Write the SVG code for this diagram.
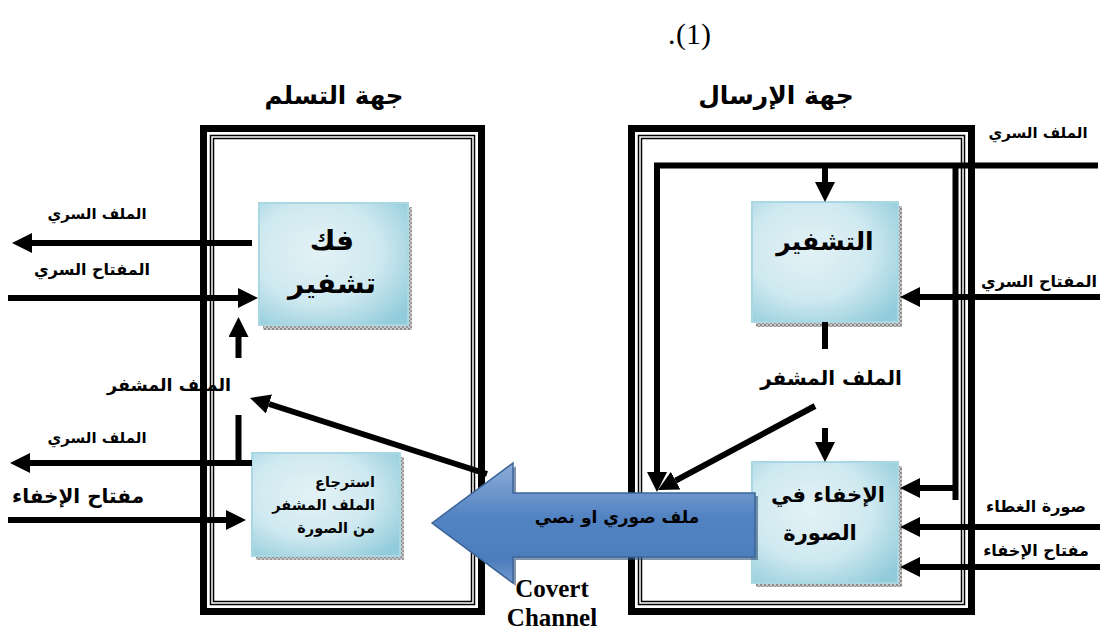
<svg xmlns="http://www.w3.org/2000/svg" width="1106" height="633" viewBox="0 0 1106 633">
<defs>
<style>
.ar{font-family:"DejaVu Sans",sans-serif;font-weight:bold;fill:#000}
.lat{font-family:"Liberation Serif",serif;fill:#000}
.ln{stroke:#000;stroke-width:6;fill:none;stroke-linejoin:miter}
.fr{fill:none;stroke:#000}
.box{fill:url(#boxg);stroke:#a9d7e3;stroke-width:2}
.shadow{fill:url(#dots)}
</style>
<radialGradient id="boxg" cx="0.4" cy="0.4" r="0.75">
<stop offset="0" stop-color="#e3f2f6"/>
<stop offset="0.55" stop-color="#cfe9f0"/>
<stop offset="1" stop-color="#92ccdb"/>
</radialGradient>
<linearGradient id="blue" x1="0" y1="0" x2="0" y2="1">
<stop offset="0" stop-color="#8eadd9"/>
<stop offset="0.45" stop-color="#5283c2"/>
<stop offset="0.8" stop-color="#4c7dbd"/>
<stop offset="1" stop-color="#7398cc"/>
</linearGradient>
<pattern id="dots" width="4" height="4" patternUnits="userSpaceOnUse">
<rect width="4" height="4" fill="#c8c8c8"/>
<rect width="2" height="2" fill="#8a8a8a"/>
<rect x="2" y="2" width="2" height="2" fill="#9a9a9a"/>
</pattern>
<marker id="ah" viewBox="0 0 20 20" refX="0" refY="10" markerWidth="20" markerHeight="20" markerUnits="userSpaceOnUse" orient="auto">
<path d="M0,0 L20,10 L0,20 Z" fill="#000"/>
</marker>
</defs>

<text class="lat" x="668" y="44" font-size="30">.</text>
<text class="lat" x="676" y="44" font-size="30">(1)</text>
<text class="ar" x="334" y="104" font-size="24.5" text-anchor="middle">جهة التسلم</text>
<text class="ar" x="776" y="104" font-size="25" text-anchor="middle">جهة الإرسال</text>

<g id="frame-receiver">
<rect class="fr" x="203.5" y="128.5" width="278" height="483" stroke-width="7"/>
<rect class="fr" x="210.5" y="135.5" width="264" height="469" stroke-width="1.5"/>
<rect class="fr" x="213.5" y="138.5" width="258" height="463" stroke-width="1.5"/>
</g>
<g id="frame-sender">
<rect class="fr" x="631.5" y="128.5" width="340" height="483" stroke-width="7"/>
<rect class="fr" x="638.5" y="135.5" width="326" height="469" stroke-width="1.5"/>
<rect class="fr" x="641.5" y="138.5" width="320" height="463" stroke-width="1.5"/>
</g>

<g id="node-decrypt">
<rect class="shadow" x="263" y="207" width="149" height="123"/>
<rect class="box" x="259" y="203" width="149" height="122"/>
<text class="ar" x="332" y="250" font-size="28" text-anchor="middle">فك</text>
<text class="ar" x="332" y="293" font-size="28" text-anchor="middle">تشفير</text>
</g>

<g id="node-extract">
<rect class="shadow" x="256" y="457" width="148" height="103"/>
<rect class="box" x="252" y="453" width="148" height="103"/>
<text class="ar" x="375" y="487" font-size="14.5" text-anchor="end">استرجاع</text>
<text class="ar" x="375" y="510" font-size="14.5" text-anchor="end">الملف المشفر</text>
<text class="ar" x="375" y="533" font-size="14.5" text-anchor="end">من الصورة</text>
</g>

<g id="node-encrypt">
<rect class="shadow" x="756" y="206" width="146" height="121"/>
<rect class="box" x="752" y="202" width="146" height="120"/>
<text class="ar" x="825" y="250" font-size="25" text-anchor="middle">التشفير</text>
</g>

<g id="node-hide">
<rect class="shadow" x="756" y="466" width="146" height="121"/>
<rect class="box" x="752" y="462" width="146" height="121"/>
<text class="ar" x="828" y="502" font-size="21" text-anchor="middle">الإخفاء في</text>
<text class="ar" x="820" y="540" font-size="21" text-anchor="middle">الصورة</text>
</g>

<g id="connectors">
<line class="ln" x1="252" y1="243" x2="32" y2="243" marker-end="url(#ah)"/>
<line class="ln" x1="8" y1="298" x2="238" y2="298" marker-end="url(#ah)"/>
<line class="ln" x1="238.5" y1="358" x2="238.5" y2="337" marker-end="url(#ah)"/>
<line class="ln" x1="238.5" y1="415" x2="238.5" y2="461"/>
<line class="ln" x1="487" y1="474" x2="269" y2="404" marker-end="url(#ah)"/>
<line class="ln" x1="252" y1="463" x2="30" y2="463" marker-end="url(#ah)"/>
<line class="ln" x1="8" y1="520" x2="226" y2="520" marker-end="url(#ah)"/>

<polyline class="ln" points="1098,165.5 657,165.5 657,472" marker-end="url(#ah)"/>
<line class="ln" x1="825" y1="166" x2="825" y2="182" marker-end="url(#ah)"/>
<line class="ln" x1="955.5" y1="163" x2="955.5" y2="500"/>
<line class="ln" x1="958" y1="488" x2="920" y2="488" marker-end="url(#ah)"/>
<line class="ln" x1="825" y1="322" x2="825" y2="349"/>
<line class="ln" x1="825" y1="428" x2="825" y2="442" marker-end="url(#ah)"/>
<line class="ln" x1="815" y1="406" x2="675.6" y2="480.6" marker-end="url(#ah)"/>
<line class="ln" x1="1100" y1="297" x2="920" y2="297" marker-end="url(#ah)"/>
<line class="ln" x1="1100" y1="527" x2="920" y2="527" marker-end="url(#ah)"/>
<line class="ln" x1="1100" y1="567" x2="920" y2="567" marker-end="url(#ah)"/>
</g>

<g id="covert-channel">
<polygon points="435,526 516,466 516,496 758,496 758,560 516,560 516,586" fill="#2f4f7a" opacity="0.6"/>
<polygon points="432,523 513,463 513,493 755,493 755,557 513,557 513,583" fill="url(#blue)" stroke="#3d6598" stroke-width="1.5"/>
<text class="ar" x="617" y="523" font-size="17" text-anchor="middle">ملف صوري او نصي</text>
<text class="lat" x="552" y="597" font-size="25" font-weight="bold" text-anchor="middle">Covert</text>
<text class="lat" x="552" y="626" font-size="25" font-weight="bold" text-anchor="middle">Channel</text>
</g>

<g id="labels">
<text class="ar" x="1038" y="138" font-size="15" text-anchor="middle">الملف السري</text>
<text class="ar" x="1039" y="287" font-size="16" text-anchor="middle">المفتاح السري</text>
<text class="ar" x="1036" y="512" font-size="16" text-anchor="middle">صورة الغطاء</text>
<text class="ar" x="1036" y="556" font-size="16" text-anchor="middle">مفتاح الإخفاء</text>
<text class="ar" x="831" y="385" font-size="20" text-anchor="middle">الملف المشفر</text>
<text class="ar" x="97" y="219" font-size="15" text-anchor="middle">الملف السري</text>
<text class="ar" x="92" y="275" font-size="16" text-anchor="middle">المفتاح السري</text>
<text class="ar" x="169" y="391" font-size="17.5" text-anchor="middle">الملف المشفر</text>
<text class="ar" x="97" y="443" font-size="15" text-anchor="middle">الملف السري</text>
<text class="ar" x="78" y="503" font-size="20" text-anchor="middle">مفتاح الإخفاء</text>
</g>
</svg>
